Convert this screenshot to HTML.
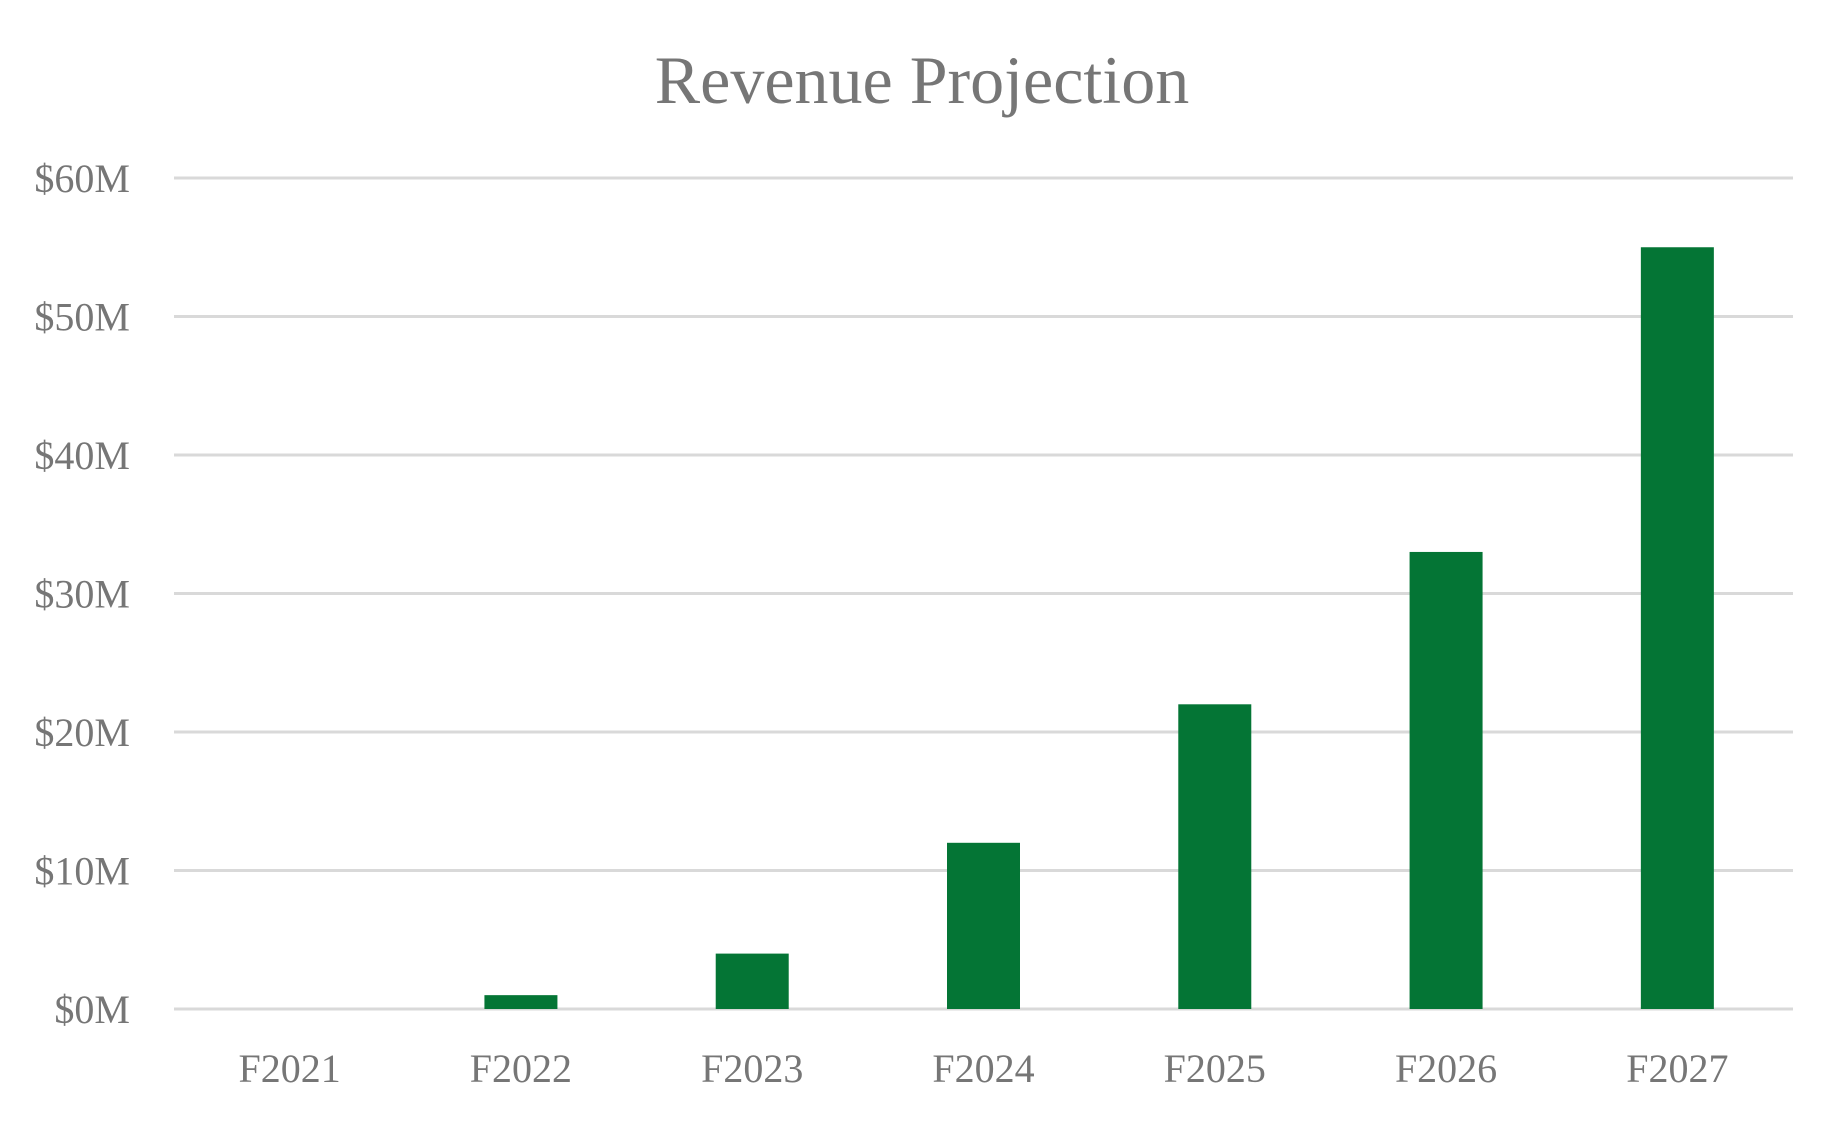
<!DOCTYPE html>
<html><head><meta charset="utf-8"><style>
html,body{margin:0;padding:0;background:#fff;}
svg{display:block;}
text{font-family:"Liberation Serif",serif;fill:#767676;}
</style></head><body>
<svg id="chart" width="1844" height="1124" viewBox="0 0 1844 1124">
<text x="922" y="103" text-anchor="middle" font-size="68">Revenue Projection</text>
<g id="grid"></g>
<g id="ylabels"></g>
<g id="bars"></g>
<g id="xlabels"></g>
</svg>
<script>
const categories = ["F2021","F2022","F2023","F2024","F2025","F2026","F2027"];
const revenue = [0, 1, 4, 12, 22, 33, 55];
const yTicks = [0, 10, 20, 30, 40, 50, 60];
const yTickLabels = ["$0M","$10M","$20M","$30M","$40M","$50M","$60M"];

const NS = "http://www.w3.org/2000/svg";
const plotLeft = 174, plotRight = 1793, plotTop = 178, plotBottom = 1009, yMax = 60;
const band = (plotRight - plotLeft) / categories.length;
const barW = 73;
function yScale(v){ return plotBottom - (v / yMax) * (plotBottom - plotTop); }
function xCenter(i){ return plotLeft + band * (i + 0.5); }
function mk(tag, attrs, parent){ const e = document.createElementNS(NS, tag); for (const k in attrs) e.setAttribute(k, attrs[k]); parent.appendChild(e); return e; }

const gridG = document.getElementById('grid'), ylG = document.getElementById('ylabels'),
      barsG = document.getElementById('bars'), xlG = document.getElementById('xlabels');
yTicks.forEach((t, i) => {
  const l = mk('line', {x1:plotLeft, x2:plotRight, y1:yScale(t), y2:yScale(t), stroke:'#d9d9d9', 'stroke-width':3}, gridG);
  
  
  const tx = mk('text', {x:130, y:yScale(t) + 14, 'text-anchor':'end', 'font-size':40}, ylG);
  tx.textContent = yTickLabels[i];
  
  
});
revenue.forEach((v, i) => {
  const h = plotBottom - yScale(v);
  if (h > 0) {
    const r = mk('rect', {x:xCenter(i) - barW/2, y:yScale(v), width:barW, height:h, fill:'#047535'}, barsG);
    
    
  }
  const tx = mk('text', {x:xCenter(i), y:1082, 'text-anchor':'middle', 'font-size':40}, xlG);
  tx.textContent = categories[i];
  
  
});
</script>
</body></html>
